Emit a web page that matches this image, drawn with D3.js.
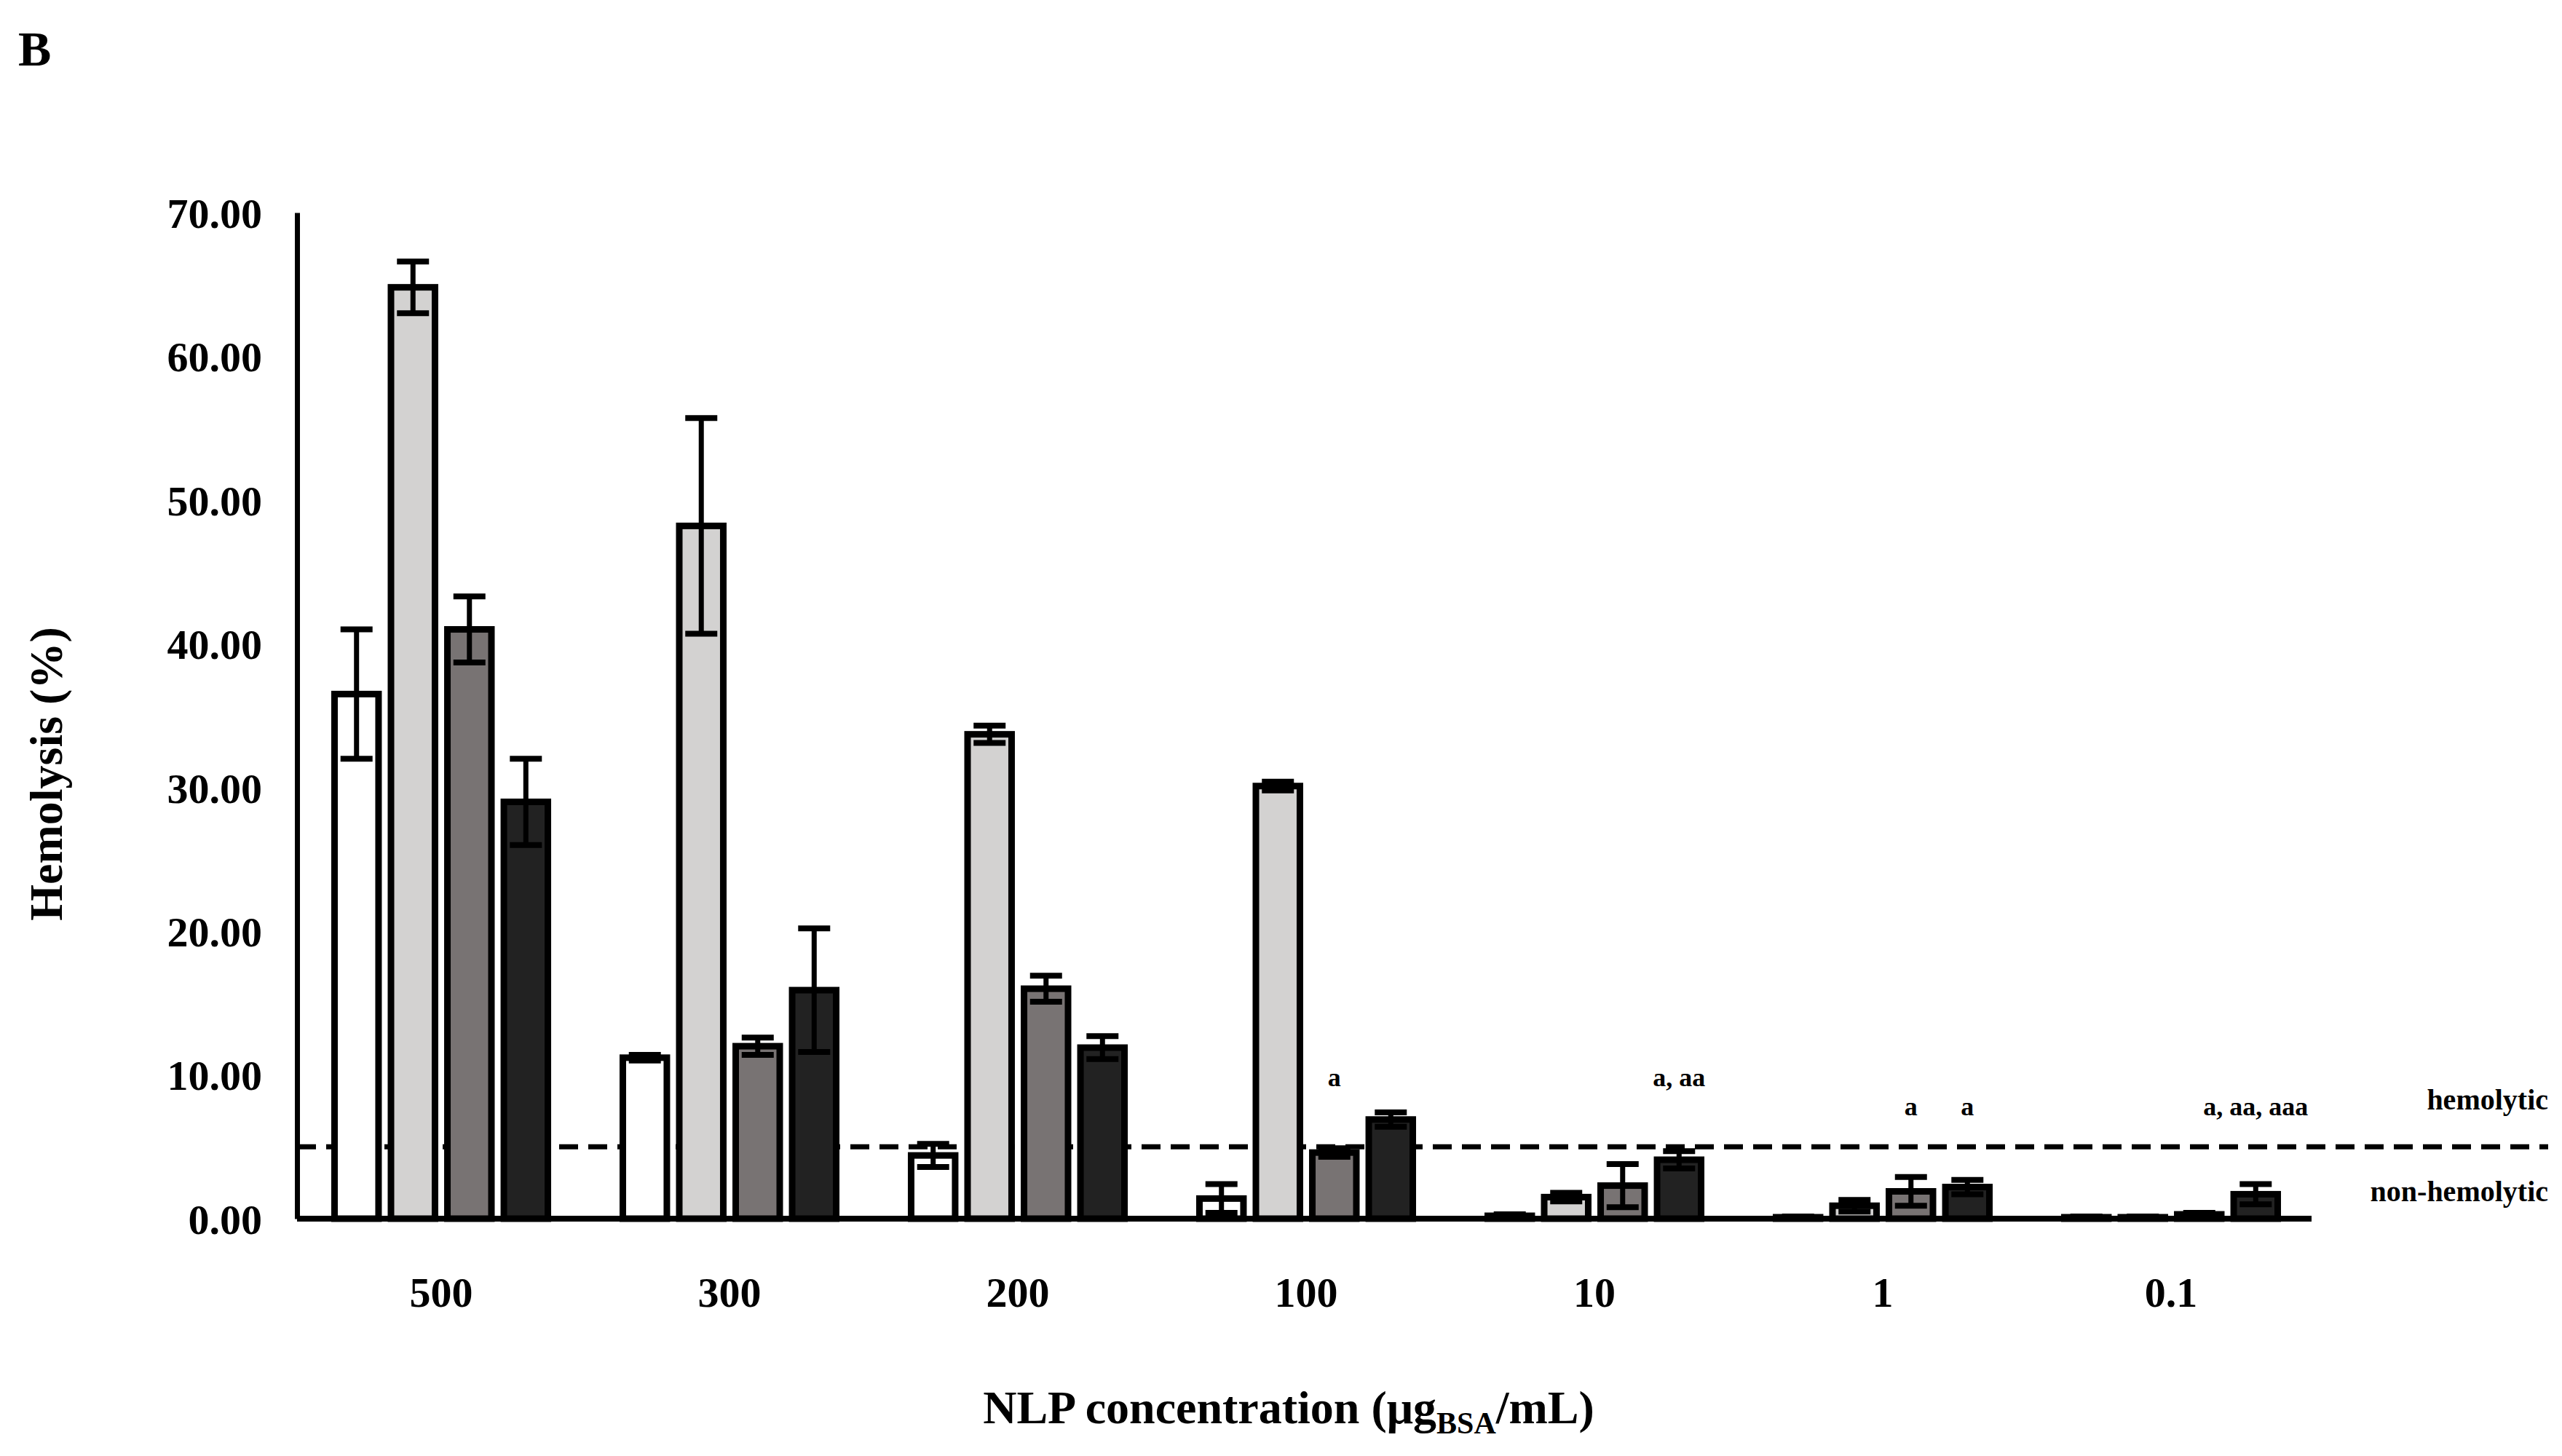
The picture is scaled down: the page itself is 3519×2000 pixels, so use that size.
<!DOCTYPE html><html><head><meta charset="utf-8">
<script src="https://cdn.jsdelivr.net/npm/d3@7"></script>
<style>body{margin:0;background:#fff}text{font-family:"Liberation Serif",serif;font-weight:bold}</style></head><body>
<svg id="c" width="3519" height="2000"></svg>
<script>
const categories=["500","300","200","100","10","1","0.1"];
const seriesColors=["#ffffff","#d3d2d1","#787373","#222222"];
const values=[[36.5,64.8,41.0,29.0],[11.2,48.2,12.0,15.9],[4.4,33.7,16.0,11.9],[1.4,30.1,4.6,6.9],[0.2,1.5,2.3,4.1],[0.1,0.9,1.9,2.2],[0.1,0.1,0.3,1.7]];
const errors=[[4.5,1.8,2.3,3.0],[0.2,7.5,0.6,4.3],[0.8,0.6,0.9,0.8],[1.0,0.3,0.3,0.5],[0.1,0.3,1.5,0.6],[0.05,0.4,1.0,0.5],[0.05,0.05,0.1,0.7]];
const yTicks=[0,10,20,30,40,50,60,70];
const annotations=[{c:"100",s:2,t:"a",v:9.2},{c:"10",s:3,t:"a, aa",v:9.2},{c:"1",s:2,t:"a",v:7.2},{c:"1",s:3,t:"a",v:7.2},{c:"0.1",s:3,t:"a, aa, aaa",v:7.2}];
const threshold=5;
const svg=d3.select("#c");
const x0=408,x1=3175,yb=1674,yt=292;
const x=d3.scaleBand().domain(categories).range([x0,x0+396*7]).paddingInner(0.26).paddingOuter(0.13);
const xs=d3.scaleBand().domain([0,1,2,3]).range([0,x.bandwidth()]).paddingInner(0.22);
const y=d3.scaleLinear().domain([0,70]).range([yb,yt]);
// dashed threshold
svg.append("line").attr("x1",x0).attr("x2",3500).attr("y1",y(threshold)).attr("y2",y(threshold)).attr("stroke","#000").attr("stroke-width",7).attr("stroke-dasharray","26,14");
const g=svg.append("g");
values.forEach((vs,i)=>{vs.forEach((v,s)=>{
 const bx=x(categories[i])+xs(s),bw=xs.bandwidth();
 g.append("rect").attr("x",bx).attr("y",y(v)).attr("width",bw).attr("height",yb-y(v)).attr("fill",seriesColors[s]).attr("stroke","#000").attr("stroke-width",9);
 const e=errors[i][s],cx=bx+bw/2,cw=22;
 g.append("line").attr("x1",cx).attr("x2",cx).attr("y1",y(v+e)).attr("y2",y(Math.max(0,v-e))).attr("stroke","#000").attr("stroke-width",7);
 [v+e,Math.max(0,v-e)].forEach(t=>g.append("line").attr("x1",cx-cw).attr("x2",cx+cw).attr("y1",y(t)).attr("y2",y(t)).attr("stroke","#000").attr("stroke-width",8));
});});
// axes
const ya=svg.append("g").attr("transform",`translate(${x0},0)`).call(d3.axisLeft(y).tickValues(yTicks).tickSize(0).tickFormat(d3.format(".2f")));
ya.select(".domain").attr("stroke-width",7);
ya.selectAll("text").attr("font-size",58).attr("x",-48).attr("dy","0.35em").style("font-family","Liberation Serif").style("font-weight","bold");
const xa=svg.append("g").attr("transform",`translate(0,${yb})`).call(d3.axisBottom(x).tickSize(0));
xa.select(".domain").attr("d",`M${x0},0H${x1}`).attr("stroke-width",8);
xa.selectAll("text").attr("font-size",58).attr("y",80).style("font-family","Liberation Serif").style("font-weight","bold");
annotations.forEach(a=>{const i=categories.indexOf(a.c);
 svg.append("text").attr("x",x(a.c)+xs(a.s)+xs.bandwidth()/2).attr("y",y(a.v)).attr("text-anchor","middle").attr("font-size",36).text(a.t);});
svg.append("text").attr("x",3500).attr("y",y(7.6)).attr("text-anchor","end").attr("font-size",40).text("hemolytic");
svg.append("text").attr("x",3500).attr("y",y(1.2)).attr("text-anchor","end").attr("font-size",40).text("non-hemolytic");
svg.append("text").attr("transform",`translate(85,${(yb+yt)/2+80}) rotate(-90)`).attr("text-anchor","middle").attr("font-size",64).text("Hemolysis (%)");
const xl=svg.append("text").attr("x",1770).attr("y",1955).attr("text-anchor","middle").attr("font-size",64);
xl.append("tspan").text("NLP concentration (μg");
xl.append("tspan").attr("font-size",42).attr("dy",14).text("BSA");
xl.append("tspan").attr("dy",-14).text("/mL)");
svg.append("text").attr("x",25).attr("y",90).attr("font-size",68).text("B");
</script></body></html>
